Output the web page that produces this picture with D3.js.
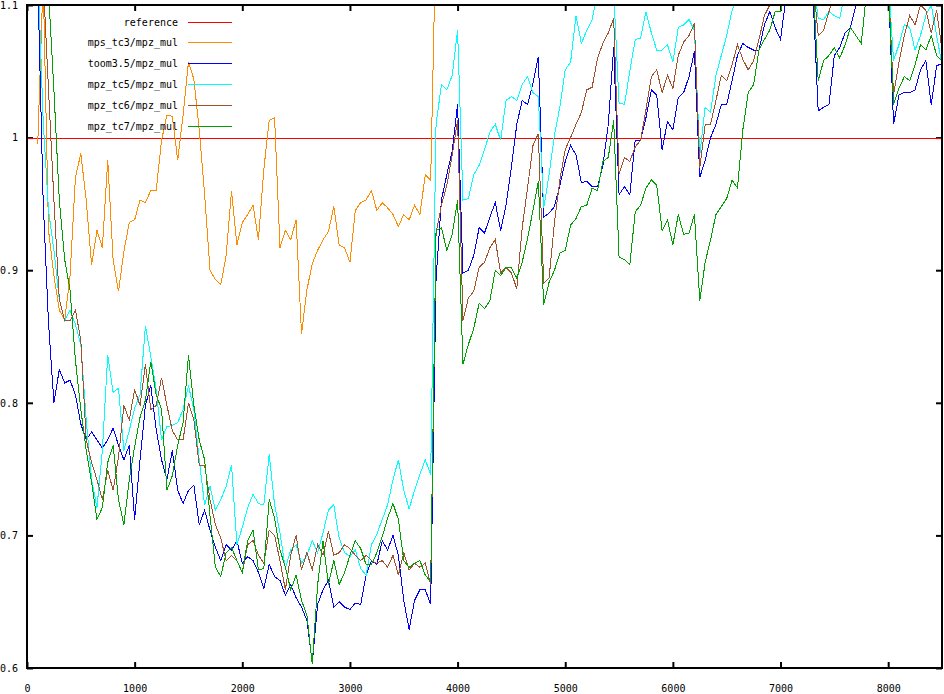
<!DOCTYPE html>
<html><head><meta charset="utf-8">
<script src="https://cdn.jsdelivr.net/npm/d3@7"></script>
<style>html,body{margin:0;padding:0;background:#fff;}svg{display:block;}</style>
</head><body><svg id="chart" width="944" height="694"></svg>
<script>
const sizes = [
100,150,200,250,300,350,400,450,500,550,
600,650,700,750,800,850,900,950,1000,1050,
1100,1150,1200,1250,1300,1350,1400,1450,1500,1550,
1600,1650,1700,1750,1800,1850,1900,1950,2000,2050,
2100,2150,2200,2250,2300,2350,2400,2450,2500,2550,
2600,2650,2700,2750,2800,2850,2900,2950,3000,3050,
3100,3150,3200,3250,3300,3350,3400,3450,3500,3550,
3600,3650,3700,3750,3800,3850,3900,3950,4000,4050,
4100,4150,4200,4250,4300,4350,4400,4450,4500,4550,
4600,4650,4700,4750,4800,4850,4900,4950,5000,5050,
5100,5150,5200,5250,5300,5350,5400,5450,5500,5550,
5600,5650,5700,5750,5800,5850,5900,5950,6000,6050,
6100,6150,6200,6250,6300,6350,6400,6450,6500,6550,
6600,6650,6700,6750,6800,6850,6900,6950,7000,7050,
7100,7150,7200,7250,7300,7350,7400,7450,7500,7550,
7600,7650,7700,7750,7800,7850,7900,7950,8000,8050,
8100,8150,8200,8250,8300,8350,8400,8450,8500];

const refX = [0, 8500];
const refY = [1, 1];

const mps_tc3 = [
0.995,1.12,0.93,0.896,0.87,0.862,0.896,0.97,0.988,0.953,
0.904,0.93,0.917,0.983,0.908,0.884,0.914,0.936,0.938,0.953,
0.951,0.96,0.96,0.998,1.017,1.016,0.983,1.017,1.057,1.044,
1.006,0.957,0.9,0.893,0.889,0.911,0.96,0.919,0.936,0.942,
0.949,0.923,0.976,1.013,1.015,0.917,0.93,0.923,0.938,0.852,
0.885,0.905,0.915,0.923,0.929,0.948,0.919,0.917,0.906,0.945,
0.951,0.953,0.96,0.945,0.951,0.947,0.942,0.933,0.942,0.938,
0.949,0.942,0.972,0.968,1.16,1.19,1.21,1.22,1.24,1.18,
1.17,1.19,1.2,1.21,1.22,1.23,1.22,1.24,1.25,1.26,
1.27,1.28,1.29,1.3,1.2,1.21,1.23,1.24,1.26,1.27,
1.27,1.26,1.27,1.28,1.29,1.3,1.31,1.32,1.22,1.23,
1.23,1.25,1.26,1.27,1.29,1.3,1.28,1.3,1.3,1.31,
1.32,1.33,1.34,1.24,1.25,1.26,1.27,1.29,1.29,1.3,
1.31,1.31,1.31,1.32,1.33,1.34,1.35,1.35,1.36,1.37,
1.37,1.38,1.38,1.39,1.39,1.28,1.29,1.3,1.31,1.32,
1.33,1.34,1.35,1.35,1.36,1.37,1.38,1.38,1.39,1.29,
1.3,1.31,1.32,1.33,1.34,1.35,1.35,1.36,1.36];

const toom35 = [
1.12,0.953,0.86,0.80,0.825,0.815,0.817,0.806,0.784,0.772,
0.778,0.772,0.766,0.772,0.781,0.768,0.757,0.768,0.712,0.757,
0.798,0.813,0.78,0.757,0.742,0.764,0.734,0.724,0.734,0.738,
0.708,0.719,0.704,0.691,0.681,0.693,0.689,0.696,0.679,0.684,
0.681,0.672,0.66,0.678,0.669,0.666,0.655,0.663,0.653,0.646,
0.636,0.604,0.648,0.659,0.666,0.646,0.65,0.646,0.644,0.649,
0.648,0.67,0.681,0.678,0.696,0.689,0.70,0.685,0.651,0.629,
0.651,0.659,0.659,0.648,0.893,0.953,0.972,0.99,1.025,0.898,
0.90,0.911,0.932,0.928,0.94,0.951,0.93,0.949,0.978,1.01,
1.028,1.025,1.041,1.061,0.94,0.943,0.948,0.964,0.982,0.994,
0.987,0.966,0.967,0.963,0.963,0.979,1.01,1.068,0.957,0.963,
0.957,0.998,0.998,1.015,1.036,1.032,0.991,1.012,1.006,1.03,
1.034,1.046,1.065,0.97,0.983,1.0,1.01,1.025,1.025,1.043,
1.062,1.071,1.068,1.066,1.066,1.085,1.095,1.083,1.074,1.105,
1.13,1.14,1.13,1.12,1.11,1.02,1.023,1.025,1.062,1.068,
1.079,1.083,1.10,1.12,1.13,1.13,1.12,1.12,1.12,1.01,
1.032,1.034,1.034,1.036,1.051,1.058,1.025,1.054,1.056];

const tc5 = [
1.13,1.013,0.945,0.915,0.878,0.862,0.87,0.859,0.844,0.787,
0.742,0.721,0.764,0.836,0.808,0.811,0.764,0.779,0.796,0.806,
0.858,0.835,0.81,0.772,0.782,0.783,0.785,0.795,0.813,0.795,
0.757,0.723,0.737,0.719,0.727,0.737,0.753,0.693,0.706,0.721,
0.731,0.724,0.723,0.761,0.723,0.702,0.675,0.689,0.693,0.679,
0.685,0.696,0.687,0.702,0.719,0.723,0.698,0.687,0.684,0.689,
0.675,0.67,0.693,0.701,0.712,0.723,0.742,0.757,0.734,0.72,
0.734,0.746,0.757,0.746,1.01,1.04,1.036,1.047,1.081,0.953,
0.954,0.972,0.979,0.991,1.004,1.01,0.998,1.028,1.031,1.028,
1.04,1.046,1.034,1.031,0.947,0.972,1.002,1.023,1.051,1.057,
1.092,1.071,1.081,1.089,1.11,1.12,1.12,1.11,1.026,1.025,
1.05,1.074,1.075,1.095,1.079,1.066,1.066,1.07,1.057,1.083,
1.085,1.089,1.081,0.987,1.023,1.019,1.047,1.062,1.077,1.096,
1.105,1.12,1.13,1.13,1.13,1.13,1.13,1.12,1.12,1.13,
1.13,1.13,1.13,1.13,1.12,1.09,1.089,1.095,1.092,1.09,
1.11,1.12,1.12,1.12,1.12,1.12,1.12,1.12,1.12,1.058,
1.07,1.085,1.083,1.066,1.077,1.092,1.1,1.077,1.055];

const tc6 = [
1.13,1.12,1.036,0.953,0.878,0.862,0.862,0.87,0.847,0.772,
0.755,0.742,0.727,0.749,0.734,0.759,0.798,0.787,0.81,0.798,
0.829,0.795,0.798,0.819,0.798,0.779,0.772,0.772,0.8,0.787,
0.753,0.753,0.727,0.708,0.698,0.681,0.685,0.681,0.672,0.693,
0.696,0.685,0.679,0.704,0.7,0.681,0.659,0.685,0.7,0.674,
0.687,0.674,0.693,0.685,0.703,0.685,0.687,0.693,0.69,0.685,
0.681,0.685,0.681,0.679,0.681,0.676,0.685,0.67,0.687,0.674,
0.679,0.676,0.679,0.663,0.928,0.949,0.964,0.987,1.013,0.862,
0.879,0.884,0.902,0.906,0.917,0.923,0.898,0.902,0.898,0.886,
0.932,0.962,0.994,1.003,0.89,0.894,0.936,0.968,0.991,1.0,
1.01,1.019,1.036,1.038,1.06,1.071,1.079,1.09,0.973,0.985,
0.982,0.993,0.998,1.021,1.046,1.051,1.034,1.047,1.037,1.062,
1.072,1.077,1.086,0.977,1.01,1.01,1.028,1.047,1.043,1.055,
1.07,1.059,1.051,1.058,1.074,1.092,1.1,1.11,1.12,1.12,
1.13,1.13,1.12,1.12,1.12,1.077,1.081,1.095,1.11,1.12,
1.12,1.13,1.13,1.12,1.12,1.12,1.12,1.12,1.12,1.032,
1.057,1.077,1.092,1.085,1.1,1.096,1.079,1.096,1.066];

const tc7 = [
1.13,1.12,1.11,1.036,0.953,0.908,0.885,0.832,0.795,0.764,
0.74,0.712,0.721,0.755,0.768,0.727,0.708,0.742,0.767,0.789,
0.802,0.831,0.806,0.795,0.734,0.745,0.768,0.785,0.836,0.798,
0.772,0.757,0.715,0.676,0.669,0.687,0.691,0.681,0.672,0.696,
0.704,0.674,0.675,0.727,0.713,0.689,0.676,0.659,0.67,0.651,
0.64,0.603,0.663,0.696,0.663,0.681,0.663,0.672,0.685,0.696,
0.69,0.678,0.678,0.687,0.699,0.713,0.724,0.712,0.681,0.676,
0.679,0.681,0.67,0.665,0.93,0.932,0.915,0.927,0.953,0.829,
0.844,0.856,0.875,0.871,0.877,0.9,0.896,0.902,0.902,0.894,
0.906,0.924,0.945,0.967,0.874,0.891,0.9,0.913,0.915,0.934,
0.939,0.948,0.949,0.962,0.96,0.982,0.985,1.013,0.91,0.908,
0.904,0.944,0.949,0.962,0.968,0.964,0.93,0.938,0.919,0.942,
0.927,0.928,0.942,0.877,0.906,0.923,0.942,0.948,0.954,0.968,
0.962,1.006,1.034,1.04,1.066,1.074,1.081,1.095,1.095,1.11,
1.12,1.12,1.12,1.12,1.12,1.043,1.058,1.062,1.068,1.06,
1.07,1.083,1.077,1.071,1.11,1.12,1.12,1.12,1.12,1.025,
1.037,1.046,1.043,1.055,1.07,1.066,1.077,1.062,1.058];

const xTicks = [0,1000,2000,3000,4000,5000,6000,7000,8000];
const yTicks = [0.6,0.7,0.8,0.9,1.0,1.1];
const yTickLabels = ["0.6","0.7","0.8","0.9","1","1.1"];

const seriesNames = ["reference","mps_tc3/mpz_mul","toom3.5/mpz_mul","mpz_tc5/mpz_mul","mpz_tc6/mpz_mul","mpz_tc7/mpz_mul"];
const seriesColors = ["#ff0000","#ff8c00","#0000ff","#00ffff","#a0522d","#00a000"];

const L = 27, R = 942, T = 5, B = 668;
const x = d3.scaleLinear().domain([0, 8500]).range([L, R]);
const y = d3.scaleLinear().domain([0.6, 1.1]).range([B, T]);

const svg = d3.select("#chart");
const font = "'DejaVu Sans Mono', monospace";

svg.append("defs").append("clipPath").attr("id","clip")
  .append("rect").attr("x",L).attr("y",T).attr("width",R-L).attr("height",B-T);

const axB = svg.append("g").attr("transform",`translate(0,${B})`)
  .call(d3.axisBottom(x).tickValues(xTicks).tickSizeInner(-6).tickSizeOuter(0).tickPadding(17).tickFormat(d3.format("d")));
const axT = svg.append("g").attr("transform",`translate(0,${T})`)
  .call(d3.axisTop(x).tickValues(xTicks).tickSizeInner(-6).tickSizeOuter(0).tickFormat(""));
const axLft = svg.append("g").attr("transform",`translate(${L},0)`)
  .call(d3.axisLeft(y).tickValues(yTicks).tickSizeInner(-6).tickSizeOuter(0).tickPadding(9).tickFormat((d,i)=>yTickLabels[i]));
const axRt = svg.append("g").attr("transform",`translate(${R},0)`)
  .call(d3.axisRight(y).tickValues(yTicks).tickSizeInner(-6).tickSizeOuter(0).tickFormat(""));
[axB,axT,axLft,axRt].forEach(g=>{
  g.select(".domain").remove();
  g.selectAll(".tick line").attr("stroke","#000").attr("stroke-width",2);
  g.selectAll("text").attr("font-family",font).attr("font-size",10).attr("fill","#000");
});

const plot = svg.append("g").attr("clip-path","url(#clip)");
const legend = svg.append("g");

const seriesLine = d3.line().x((d,i)=>x(sizes[i])).y(d=>y(d));
const refLine = d3.line().x((d,i)=>x(refX[i])).y(d=>Math.round(y(d)) + 0.5);
const allSeries = [refY, mps_tc3, toom35, tc5, tc6, tc7];

const rowY = [22, 42, 63, 84, 105, 126];
seriesNames.forEach((name,k)=>{
  legend.append("text").attr("x",178).attr("y",rowY[k]).attr("dy","0.35em")
    .attr("text-anchor","end").attr("font-family",font).attr("font-size",10).attr("fill","#000").text(name);
  legend.append("line").attr("x1",188).attr("x2",232).attr("y1",rowY[k]+0.5).attr("y2",rowY[k]+0.5)
    .attr("stroke",seriesColors[k]).attr("stroke-width",1);
  const p = plot.append("path").datum(allSeries[k])
    .attr("d", k === 0 ? refLine : seriesLine)
    .attr("fill","none").attr("stroke",seriesColors[k]).attr("stroke-width",1);
  if (k > 0) p.attr("shape-rendering","crispEdges");
});

svg.append("rect").attr("x",L).attr("y",T).attr("width",R-L).attr("height",B-T)
  .attr("fill","none").attr("stroke","#000").attr("stroke-width",2);
</script></body></html>
